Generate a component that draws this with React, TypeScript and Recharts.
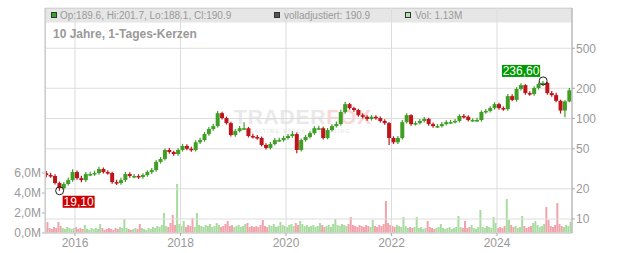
import React from 'react';
import { ComposedChart, Bar, XAxis, YAxis, CartesianGrid, ReferenceDot, Cell } from 'recharts';

// Monatskerzen ab Juni 2015 (aus dem Bild geschaetzt)
const opens = [
  28.5, 27.4, 26.8, 22.8, 20.3, 22.3, 24.4, 29.3, 25.5, 24.4,
  28.0, 28.0, 28.7, 31.4, 29.3, 28.7, 23.3, 22.8, 24.4, 28.0,
  26.8, 26.8, 26.2, 27.4, 29.3, 30.7, 37.0, 39.5, 48.6, 46.4,
  44.3, 48.6, 53.3, 50.0, 48.6, 58.0, 61.0, 70.0, 78.5, 84.0,
  113, 101, 90, 68.5, 75, 80, 80, 67, 65.5, 64,
  54.5, 51, 55.7, 61, 61, 64, 67, 70, 48.6, 61,
  65.5, 71.5, 80, 80, 64, 76.8, 84, 88, 116, 139,
  127, 121.5, 108, 104, 99, 104, 101, 94.5, 90, 64,
  58, 64, 92, 108, 88, 90, 94.5, 99, 88, 84,
  84, 88, 92, 92, 94.5, 106, 104, 96.6, 96.6, 96.6,
  116, 119, 127, 139, 127, 124, 167, 153, 197, 215,
  179, 175, 201, 220, 226, 179, 171, 150, 120, 148,
];
const highs = [
  30.1, 28.8, 27.9, 23.6, 23.4, 25.9, 31.2, 30.4, 26.9, 29.4,
  29.6, 30.2, 33.2, 32.6, 30.5, 29.5, 24.6, 25.7, 29.3, 29.2,
  28.1, 27.9, 28.6, 30.5, 32.2, 38.6, 41.4, 50.2, 50.8, 47.9,
  50.6, 55.9, 55.4, 52.3, 60.8, 64.3, 73.5, 82.4, 88.6, 118.5,
  117, 104.5, 92.8, 78.6, 84, 92, 82.5, 70.4, 68.7, 66.2,
  56.8, 58.5, 63.8, 64.2, 67.3, 70.1, 74.5, 72.5, 63.4, 68.7,
  74.8, 83.9, 84.6, 82.7, 80.5, 87.7, 93.5, 122, 146, 143,
  131, 125, 112.5, 108, 108.5, 107.9, 104.6, 98.5, 92.3, 66.5,
  66.8, 96.5, 113, 110.5, 94.2, 98.6, 103.7, 101.6, 91.5, 88.2,
  92.1, 96.3, 96.8, 98.8, 110.2, 110.8, 107.6, 100.8, 101.5, 120.4,
  124.6, 132.8, 145.2, 143.6, 131.5, 175.3, 174, 205, 224.5, 219,
  187, 209.5, 229, 236.6, 231, 188, 180, 154, 152, 201.7,
];
const lows = [
  26.1, 25.7, 22.0, 19.1, 19.6, 21.5, 23.5, 24.6, 23.2, 23.4,
  26.6, 26.9, 27.5, 28.3, 27.5, 22.4, 21.8, 21.9, 23.3, 25.7,
  25.5, 25.1, 25.2, 26.3, 28.1, 29.6, 35.6, 38.1, 44.6, 42.5,
  42.6, 46.9, 48.2, 46.8, 46.9, 55.8, 58.7, 67.5, 75.7, 81.3,
  97.8, 87.1, 66.2, 65.8, 72.4, 76.8, 64.8, 63.2, 61.4, 52.6,
  49.1, 49.2, 53.8, 58.7, 58.8, 61.7, 64.5, 45.0, 46.9, 58.9,
  63.1, 69.0, 76.9, 61.7, 61.9, 74.1, 81.2, 85.0, 112.4, 122.4,
  116.8, 104.2, 100.1, 95.2, 95.4, 97.4, 91.0, 86.7, 54.5, 55.6,
  55.9, 61.8, 89.0, 84.6, 85.2, 87.0, 91.2, 84.8, 80.9, 80.8,
  81.2, 85.1, 88.7, 89.4, 91.2, 100.3, 93.2, 92.9, 92.8, 93.1,
  111.5, 114.8, 122.3, 122.2, 119.5, 119.6, 148.1, 146.9, 190.2, 172.6,
  168.6, 168.5, 193.8, 211.2, 172.4, 164.6, 145, 112, 103, 145,
];
const closes = [
  27.4, 26.8, 22.8, 20.3, 22.3, 24.4, 29.3, 25.5, 24.4, 28.0,
  28.0, 28.7, 31.4, 29.3, 28.7, 23.3, 22.8, 24.4, 28.0, 26.8,
  26.8, 26.2, 27.4, 29.3, 30.7, 37.0, 39.5, 48.6, 46.4, 44.3,
  48.6, 53.3, 50.0, 48.6, 58.0, 61.0, 70.0, 78.5, 84.0, 113.0,
  101, 90, 68.5, 75, 80, 80, 67, 65.5, 64, 54.5,
  51, 55.7, 61, 61, 64, 67, 70, 48.6, 61, 65.5,
  71.5, 80, 80, 64, 76.8, 84, 88, 116, 139, 127,
  121.5, 108, 104, 99, 104, 101, 94.5, 90, 64, 58,
  64, 92, 108, 88, 90, 94.5, 99, 88, 84, 84,
  88, 92, 92, 94.5, 106, 104, 96.6, 96.6, 96.6, 116,
  119, 127, 139, 127, 124, 167, 153, 197, 215, 179,
  175, 201, 220, 226, 179, 171, 150, 120, 148, 190.9,
];

// Volumen in Mio., halbmonatlich
const volumes = [
  0.6, 1.1, 0.5, 0.4, 0.6, 0.5, 1.1, 0.7, 0.5, 0.4, 0.6, 0.5, 0.4, 0.5, 0.6, 0.4, 0.5, 0.4, 0.8, 0.4, 0.3, 0.5, 0.4, 0.5,
  0.4, 0.9, 0.5, 0.3, 0.4, 0.5, 0.4, 0.3, 0.5, 0.4, 0.6, 0.5, 1.4, 0.5, 0.4, 0.3, 0.4, 0.5, 0.4, 0.9, 0.5, 0.4, 0.3, 0.5,
  0.4, 0.6, 0.5, 0.7, 0.6, 0.8, 2.0, 0.7, 0.6, 1.0, 1.8, 0.8, 4.9, 0.9, 0.7, 1.2, 0.6, 0.8, 0.7, 1.5, 0.6, 2.0, 0.8, 0.7,
  0.6, 0.8, 0.7, 0.9, 0.6, 0.7, 1.0, 0.8, 0.6, 0.7, 0.9, 1.2, 0.7, 0.8, 0.6, 0.7, 0.8, 0.6, 0.7, 0.9, 1.0, 0.6, 0.7, 0.6,
  0.7, 0.6, 0.8, 1.3, 0.7, 0.6, 0.8, 0.7, 0.9, 0.6, 0.7, 1.1, 0.8, 0.7, 0.6, 0.8, 0.9, 0.7, 1.0, 0.8, 1.2, 0.9, 0.7, 0.8,
  0.6, 0.7, 0.8, 0.6, 0.7, 1.0, 0.8, 0.6, 0.7, 0.8, 0.6, 0.9, 1.4, 0.8, 0.7, 0.9, 0.8, 0.7, 0.9, 1.6, 0.8, 0.7, 0.6, 0.8,
  0.7, 0.6, 0.8, 0.7, 0.6, 1.3, 0.7, 0.6, 0.8, 0.7, 0.9, 3.2, 1.0, 0.8, 0.7, 0.6, 0.8, 0.7, 0.6, 1.6, 0.7, 0.5, 0.6, 0.5,
  0.6, 1.6, 0.5, 0.6, 0.4, 0.5, 1.2, 0.6, 0.5, 0.4, 0.5, 0.6, 0.9, 0.5, 0.4, 0.5, 0.6, 0.4, 0.5, 0.6, 1.7, 0.6, 0.5, 1.2,
  0.5, 0.6, 0.8, 0.5, 0.4, 0.6, 2.3, 0.6, 0.5, 0.7, 0.6, 0.5, 1.6, 1.0, 0.5, 0.6, 0.5, 0.7, 3.4, 1.3, 0.8, 0.6, 0.7, 0.5,
  0.6, 1.7, 0.7, 0.5, 0.6, 0.7, 1.0, 1.2, 0.8, 0.6, 0.7, 0.9, 2.6, 1.3, 0.7, 0.6, 0.8, 3.0, 0.9, 0.7, 0.6, 0.8, 0.7, 1.1,
];

const yearTicks = [2016, 2018, 2020, 2022, 2024];
const priceTicks = [10, 20, 50, 100, 200, 500];
const volumeTicks = [0, 2, 4, 6];
const lastDay = { op: 189.6, hi: 201.7, lo: 188.1, cl: 190.9, adj: 190.9, vol: '1.13M' };

const START = 2015 + 5 / 12; // 1. Juni 2015
const X_DOMAIN: [number, number] = [2015.431, 2025.422];
const P_DOMAIN: [number, number] = [7.257, 1257.7];

const FONT = '"Liberation Sans", Arial, Helvetica, sans-serif';
const GREEN = '#3f9f25';
const RED = '#c0141b';
const VOL_GREEN = '#a8dc9f';
const VOL_RED = '#f1a2aa';
const AXIS_TEXT = '#999';

const candles = closes.map((close, i) => ({
  t: START + (i + 0.5) / 12,
  open: opens[i],
  high: highs[i],
  low: lows[i],
  close,
}));

const volumeRows = volumes.map((vol, j) => {
  const m = Math.floor(j / 2);
  return { t: START + (j + 0.5) / 24, vol, up: closes[m] >= opens[m] };
});

const minIdx = lows.indexOf(Math.min(...lows));
const maxIdx = highs.indexOf(Math.max(...highs));
const fmt = (v: number) => v.toFixed(2).replace('.', ',');

const Candle = (props: any) => {
  const { x, y, width, height, payload } = props;
  if (!payload || height == null) return null;
  const { open, close, high, low } = payload;
  const color = close >= open ? GREEN : RED;
  const span = Math.log(high) - Math.log(low);
  const toY = (v: number) => y + (height * (Math.log(high) - Math.log(v))) / span;
  const top = toY(Math.max(open, close));
  const bottom = toY(Math.min(open, close));
  const cx = x + width / 2;
  return (
    <g>
      <line x1={cx} x2={cx} y1={y} y2={y + height} stroke={color} strokeWidth={1.2} />
      <rect x={x} y={top} width={width} height={Math.max(1.5, bottom - top)} fill={color} />
    </g>
  );
};

const LowMark = (props: any) => {
  const { cx, cy } = props;
  const text = fmt(lows[minIdx]);
  const w = text.length * 6.2 + 1;
  return (
    <g>
      <circle cx={cx} cy={cy} r={4} fill="none" stroke="#222" strokeWidth={1} />
      <rect x={cx + 3} y={cy + 5} width={w} height={12} fill="#cc0000" />
      <text x={cx + 3 + w / 2} y={cy + 15} textAnchor="middle" fontSize={12} fill="#fff" fontFamily={FONT}>
        {text}
      </text>
    </g>
  );
};

const HighMark = (props: any) => {
  const { cx, cy } = props;
  const text = fmt(highs[maxIdx]);
  const w = text.length * 6.2 + 1;
  return (
    <g>
      <circle cx={cx} cy={cy} r={4} fill="none" stroke="#222" strokeWidth={1} />
      <rect x={cx - 3 - w} y={cy - 16} width={w} height={12} fill="#009900" />
      <text x={cx - 3 - w / 2} y={cy - 6} textAnchor="middle" fontSize={12} fill="#fff" fontFamily={FONT}>
        {text}
      </text>
    </g>
  );
};

const layer: React.CSSProperties = { position: 'absolute', left: 0, top: 0 };
const tickStyle = { fontSize: 12, fill: AXIS_TEXT, fontFamily: FONT };

export default function App() {
  return (
    <div style={{ position: 'absolute', left: 0, top: 0, width: 632, height: 253, background: '#fff' }}>
      <svg width={632} height={253} style={layer}>
        <rect x={45} y={8} width={527} height={14.5} fill="#e6e6e6" />
        <line x1={45} x2={572} y1={8.5} y2={8.5} stroke="#ccc" />
        <text x={234} y={124} fontSize={21} fontWeight="bold" fill="#e9e9e9" fontFamily={FONT} letterSpacing={0.8}>
          TRADER<tspan fill="#fbd6d6">FOX</tspan>
        </text>
        <text x={245} y={133} fontSize={5} fill="#e2e2e2" letterSpacing={1.3} fontFamily={FONT}>
          REALTIME STOCK SCREENING
        </text>
      </svg>

      <div style={layer}>
        <ComposedChart width={632} height={253} data={volumeRows} margin={{ top: 8, right: 60, bottom: 20, left: 0 }}>
          <XAxis dataKey="t" type="number" domain={X_DOMAIN} allowDataOverflow hide />
          <YAxis
            type="number"
            domain={[0, 22.5]}
            ticks={volumeTicks}
            width={45}
            tickSize={3}
            tickMargin={1}
            axisLine={{ stroke: '#ccc' }}
            tickLine={{ stroke: '#aaa' }}
            tick={tickStyle}
            tickFormatter={(v: number) => `${v.toFixed(1).replace('.', ',')}M`}
          />
          <Bar dataKey="vol" barSize={2} isAnimationActive={false}>
            {volumeRows.map((r, j) => (
              <Cell key={j} fill={r.up ? VOL_GREEN : VOL_RED} />
            ))}
          </Bar>
        </ComposedChart>
      </div>

      <div style={layer}>
        <ComposedChart width={632} height={253} data={candles} margin={{ top: 8, right: 0, bottom: 0, left: 45 }}>
          <CartesianGrid yAxisId="p" stroke="#dcdcdc" />
          <XAxis
            dataKey="t"
            type="number"
            domain={X_DOMAIN}
            allowDataOverflow
            ticks={yearTicks}
            height={20}
            tickSize={3}
            tickMargin={2}
            axisLine={{ stroke: '#ccc' }}
            tickLine={{ stroke: '#aaa' }}
            tick={tickStyle}
            tickFormatter={(v: number) => String(v)}
          />
          <YAxis
            yAxisId="p"
            orientation="right"
            type="number"
            scale="log"
            domain={P_DOMAIN}
            allowDataOverflow
            ticks={priceTicks}
            width={60}
            tickSize={3}
            tickMargin={1}
            axisLine={{ stroke: '#aaa' }}
            tickLine={{ stroke: '#aaa' }}
            tick={tickStyle}
          />
          <Bar
            yAxisId="p"
            dataKey={(d: any) => [d.low, d.high]}
            barSize={4}
            shape={Candle}
            isAnimationActive={false}
          />
          <ReferenceDot yAxisId="p" x={candles[minIdx].t} y={lows[minIdx]} r={4} shape={LowMark} />
          <ReferenceDot yAxisId="p" x={candles[maxIdx].t} y={highs[maxIdx]} r={4} shape={HighMark} />
        </ComposedChart>
      </div>

      <svg width={632} height={253} style={{ ...layer, pointerEvents: 'none' }} fontFamily={FONT}>
        <line x1={45.5} x2={45.5} y1={8} y2={233} stroke="#ccc" />
        <rect x={51.5} y={12.5} width={5} height={5} fill="#33aa22" stroke="#333" />
        <text x={60} y={18.5} fontSize={10} fill={AXIS_TEXT}>
          {`Op:${lastDay.op}, Hi:${lastDay.hi}, Lo:${lastDay.lo}, Cl:${lastDay.cl}`}
        </text>
        <rect x={274.5} y={12.5} width={5} height={5} fill="#555" stroke="#333" />
        <text x={284} y={18.5} fontSize={10} fill={AXIS_TEXT}>
          {`volladjustiert: ${lastDay.adj}`}
        </text>
        <rect x={405.5} y={12.5} width={5} height={5} fill="#b5e3ad" stroke="#333" />
        <text x={415} y={18.5} fontSize={10} fill={AXIS_TEXT}>
          {`Vol: ${lastDay.vol}`}
        </text>
        <text x={53} y={38} fontSize={12} fontWeight="bold" fill={AXIS_TEXT}>
          10 Jahre, 1-Tages-Kerzen
        </text>
      </svg>
    </div>
  );
}
